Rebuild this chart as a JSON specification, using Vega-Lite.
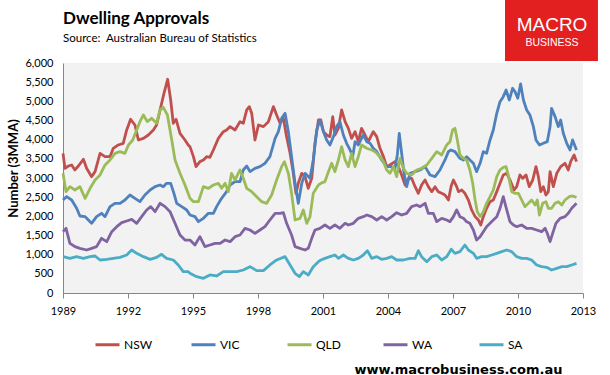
{
"$schema":"https://vega.github.io/schema/vega-lite/v6.json",
"width":520,"height":230,
"autosize":"none",
"padding":{"left":63,"top":63,"right":27,"bottom":82},
"background":"white",
"config":{"view":{"fill":"#F2F2F2","stroke":null},"font":"Lato",
"axisX":{"grid":false,"ticks":true,"tickSize":5,"tickColor":"#868686","domainColor":"#868686","labelFont":"Lato","labelFontSize":11,"labelColor":"#000000","labelPadding":7,"labelFlush":false},
"axisY":{"grid":false,"ticks":false,"domainColor":"#868686","labelFont":"Lato","labelFontSize":11,"labelColor":"#000000","labelPadding":10}},
"title":{"text":"Dwelling Approvals","subtitle":"Source:\u00a0 Australian Bureau of Statistics","anchor":"start","frame":"group","fontSize":17,"fontWeight":"bold","color":"#000000","subtitleFontSize":11.5,"subtitleColor":"#000000","subtitlePadding":5,"offset":12,"dy":58},
"layer":[
{"data":{"values":[
{"s":"NSW","t":1989.0,"v":3644},{"s":"NSW","t":1989.09,"v":3253},{"s":"NSW","t":1989.25,"v":3313},{"s":"NSW","t":1989.4,"v":3340},{"s":"NSW","t":1989.55,"v":3210},{"s":"NSW","t":1989.71,"v":3313},{"s":"NSW","t":1989.94,"v":3488},{"s":"NSW","t":1990.09,"v":3253},{"s":"NSW","t":1990.32,"v":3035},{"s":"NSW","t":1990.48,"v":3166},{"s":"NSW","t":1990.71,"v":3644},{"s":"NSW","t":1990.94,"v":3557},{"s":"NSW","t":1991.17,"v":3557},{"s":"NSW","t":1991.32,"v":3775},{"s":"NSW","t":1991.55,"v":3862},{"s":"NSW","t":1991.78,"v":3905},{"s":"NSW","t":1991.94,"v":4253},{"s":"NSW","t":1992.12,"v":4531},{"s":"NSW","t":1992.32,"v":4383},{"s":"NSW","t":1992.48,"v":3992},{"s":"NSW","t":1992.71,"v":4035},{"s":"NSW","t":1992.94,"v":4122},{"s":"NSW","t":1993.17,"v":4253},{"s":"NSW","t":1993.32,"v":4383},{"s":"NSW","t":1993.48,"v":4775},{"s":"NSW","t":1993.66,"v":5209},{"s":"NSW","t":1993.83,"v":5575},{"s":"NSW","t":1993.97,"v":5035},{"s":"NSW","t":1994.09,"v":4427},{"s":"NSW","t":1994.22,"v":4531},{"s":"NSW","t":1994.4,"v":4166},{"s":"NSW","t":1994.63,"v":3992},{"s":"NSW","t":1994.78,"v":3862},{"s":"NSW","t":1994.86,"v":3818},{"s":"NSW","t":1995.02,"v":3557},{"s":"NSW","t":1995.14,"v":3296},{"s":"NSW","t":1995.32,"v":3427},{"s":"NSW","t":1995.48,"v":3470},{"s":"NSW","t":1995.63,"v":3557},{"s":"NSW","t":1995.78,"v":3540},{"s":"NSW","t":1995.94,"v":3731},{"s":"NSW","t":1996.17,"v":4035},{"s":"NSW","t":1996.4,"v":4209},{"s":"NSW","t":1996.55,"v":4253},{"s":"NSW","t":1996.71,"v":4340},{"s":"NSW","t":1996.94,"v":4253},{"s":"NSW","t":1997.17,"v":4470},{"s":"NSW","t":1997.32,"v":4427},{"s":"NSW","t":1997.48,"v":4775},{"s":"NSW","t":1997.6,"v":4862},{"s":"NSW","t":1997.71,"v":4688},{"s":"NSW","t":1997.86,"v":3992},{"s":"NSW","t":1998.02,"v":4383},{"s":"NSW","t":1998.25,"v":4340},{"s":"NSW","t":1998.48,"v":4470},{"s":"NSW","t":1998.71,"v":4862},{"s":"NSW","t":1998.86,"v":4644},{"s":"NSW","t":1999.02,"v":4427},{"s":"NSW","t":1999.17,"v":4557},{"s":"NSW","t":1999.32,"v":4079},{"s":"NSW","t":1999.48,"v":3644},{"s":"NSW","t":1999.63,"v":3122},{"s":"NSW","t":1999.75,"v":2600},{"s":"NSW","t":1999.86,"v":2861},{"s":"NSW","t":2000.02,"v":3122},{"s":"NSW","t":2000.17,"v":3035},{"s":"NSW","t":2000.32,"v":2731},{"s":"NSW","t":2000.48,"v":2992},{"s":"NSW","t":2000.63,"v":3905},{"s":"NSW","t":2000.79,"v":4514},{"s":"NSW","t":2000.9,"v":4514},{"s":"NSW","t":2001.02,"v":4209},{"s":"NSW","t":2001.17,"v":4122},{"s":"NSW","t":2001.32,"v":4079},{"s":"NSW","t":2001.45,"v":4601},{"s":"NSW","t":2001.55,"v":4122},{"s":"NSW","t":2001.71,"v":4296},{"s":"NSW","t":2001.86,"v":4775},{"s":"NSW","t":2002.02,"v":4470},{"s":"NSW","t":2002.17,"v":4296},{"s":"NSW","t":2002.32,"v":4035},{"s":"NSW","t":2002.48,"v":4209},{"s":"NSW","t":2002.63,"v":3948},{"s":"NSW","t":2002.78,"v":4296},{"s":"NSW","t":2002.94,"v":4122},{"s":"NSW","t":2003.09,"v":3948},{"s":"NSW","t":2003.32,"v":4209},{"s":"NSW","t":2003.48,"v":4079},{"s":"NSW","t":2003.63,"v":3775},{"s":"NSW","t":2003.79,"v":3557},{"s":"NSW","t":2003.94,"v":3296},{"s":"NSW","t":2004.09,"v":3340},{"s":"NSW","t":2004.32,"v":3427},{"s":"NSW","t":2004.48,"v":3296},{"s":"NSW","t":2004.63,"v":3079},{"s":"NSW","t":2004.79,"v":2818},{"s":"NSW","t":2004.94,"v":2992},{"s":"NSW","t":2005.09,"v":2992},{"s":"NSW","t":2005.25,"v":2774},{"s":"NSW","t":2005.4,"v":2600},{"s":"NSW","t":2005.55,"v":2818},{"s":"NSW","t":2005.71,"v":2948},{"s":"NSW","t":2005.86,"v":2774},{"s":"NSW","t":2006.02,"v":2644},{"s":"NSW","t":2006.17,"v":2774},{"s":"NSW","t":2006.32,"v":2644},{"s":"NSW","t":2006.48,"v":2600},{"s":"NSW","t":2006.63,"v":2557},{"s":"NSW","t":2006.79,"v":2426},{"s":"NSW","t":2006.92,"v":2800},{"s":"NSW","t":2007.02,"v":2948},{"s":"NSW","t":2007.17,"v":2774},{"s":"NSW","t":2007.25,"v":2644},{"s":"NSW","t":2007.4,"v":2687},{"s":"NSW","t":2007.55,"v":2600},{"s":"NSW","t":2007.71,"v":2426},{"s":"NSW","t":2007.86,"v":2166},{"s":"NSW","t":2008.02,"v":1992},{"s":"NSW","t":2008.17,"v":1905},{"s":"NSW","t":2008.28,"v":1774},{"s":"NSW","t":2008.4,"v":1992},{"s":"NSW","t":2008.55,"v":2209},{"s":"NSW","t":2008.71,"v":2383},{"s":"NSW","t":2008.86,"v":2426},{"s":"NSW","t":2009.02,"v":2644},{"s":"NSW","t":2009.17,"v":2861},{"s":"NSW","t":2009.32,"v":3079},{"s":"NSW","t":2009.48,"v":3122},{"s":"NSW","t":2009.63,"v":2948},{"s":"NSW","t":2009.82,"v":2687},{"s":"NSW","t":2009.94,"v":2774},{"s":"NSW","t":2010.09,"v":3079},{"s":"NSW","t":2010.22,"v":2992},{"s":"NSW","t":2010.37,"v":3079},{"s":"NSW","t":2010.52,"v":2774},{"s":"NSW","t":2010.68,"v":2948},{"s":"NSW","t":2010.83,"v":3296},{"s":"NSW","t":2010.94,"v":3035},{"s":"NSW","t":2011.05,"v":2644},{"s":"NSW","t":2011.17,"v":2774},{"s":"NSW","t":2011.29,"v":2557},{"s":"NSW","t":2011.4,"v":2644},{"s":"NSW","t":2011.48,"v":3166},{"s":"NSW","t":2011.63,"v":2774},{"s":"NSW","t":2011.79,"v":3122},{"s":"NSW","t":2011.97,"v":3296},{"s":"NSW","t":2012.17,"v":3383},{"s":"NSW","t":2012.32,"v":3209},{"s":"NSW","t":2012.43,"v":3427},{"s":"NSW","t":2012.59,"v":3601},{"s":"NSW","t":2012.7,"v":3427},
{"s":"VIC","t":1989.0,"v":2427},{"s":"VIC","t":1989.17,"v":2513},{"s":"VIC","t":1989.4,"v":2427},{"s":"VIC","t":1989.63,"v":2209},{"s":"VIC","t":1989.78,"v":2009},{"s":"VIC","t":1990.02,"v":1992},{"s":"VIC","t":1990.17,"v":1905},{"s":"VIC","t":1990.32,"v":1818},{"s":"VIC","t":1990.55,"v":1992},{"s":"VIC","t":1990.78,"v":2079},{"s":"VIC","t":1990.94,"v":1992},{"s":"VIC","t":1991.17,"v":2253},{"s":"VIC","t":1991.4,"v":2340},{"s":"VIC","t":1991.63,"v":2340},{"s":"VIC","t":1991.86,"v":2427},{"s":"VIC","t":1992.09,"v":2557},{"s":"VIC","t":1992.32,"v":2470},{"s":"VIC","t":1992.55,"v":2383},{"s":"VIC","t":1992.78,"v":2557},{"s":"VIC","t":1993.02,"v":2687},{"s":"VIC","t":1993.25,"v":2774},{"s":"VIC","t":1993.48,"v":2818},{"s":"VIC","t":1993.63,"v":2774},{"s":"VIC","t":1993.78,"v":2861},{"s":"VIC","t":1993.97,"v":2861},{"s":"VIC","t":1994.12,"v":2600},{"s":"VIC","t":1994.25,"v":2340},{"s":"VIC","t":1994.48,"v":2253},{"s":"VIC","t":1994.71,"v":2166},{"s":"VIC","t":1994.86,"v":2035},{"s":"VIC","t":1995.09,"v":1992},{"s":"VIC","t":1995.25,"v":1861},{"s":"VIC","t":1995.48,"v":1948},{"s":"VIC","t":1995.71,"v":2079},{"s":"VIC","t":1995.94,"v":2079},{"s":"VIC","t":1996.09,"v":2253},{"s":"VIC","t":1996.32,"v":2470},{"s":"VIC","t":1996.55,"v":2644},{"s":"VIC","t":1996.71,"v":2818},{"s":"VIC","t":1996.94,"v":2905},{"s":"VIC","t":1997.17,"v":2905},{"s":"VIC","t":1997.32,"v":3209},{"s":"VIC","t":1997.48,"v":3313},{"s":"VIC","t":1997.63,"v":3166},{"s":"VIC","t":1997.86,"v":3253},{"s":"VIC","t":1998.09,"v":3296},{"s":"VIC","t":1998.32,"v":3383},{"s":"VIC","t":1998.55,"v":3557},{"s":"VIC","t":1998.79,"v":4035},{"s":"VIC","t":1998.94,"v":4209},{"s":"VIC","t":1999.09,"v":4557},{"s":"VIC","t":1999.25,"v":4688},{"s":"VIC","t":1999.4,"v":4209},{"s":"VIC","t":1999.55,"v":3557},{"s":"VIC","t":1999.71,"v":2861},{"s":"VIC","t":1999.86,"v":2339},{"s":"VIC","t":2000.02,"v":2861},{"s":"VIC","t":2000.17,"v":3122},{"s":"VIC","t":2000.4,"v":2992},{"s":"VIC","t":2000.55,"v":3470},{"s":"VIC","t":2000.71,"v":4253},{"s":"VIC","t":2000.86,"v":4514},{"s":"VIC","t":2001.02,"v":4209},{"s":"VIC","t":2001.17,"v":3992},{"s":"VIC","t":2001.32,"v":3862},{"s":"VIC","t":2001.48,"v":4079},{"s":"VIC","t":2001.63,"v":4340},{"s":"VIC","t":2001.78,"v":4470},{"s":"VIC","t":2001.94,"v":4122},{"s":"VIC","t":2002.09,"v":3905},{"s":"VIC","t":2002.25,"v":3731},{"s":"VIC","t":2002.37,"v":3557},{"s":"VIC","t":2002.48,"v":3948},{"s":"VIC","t":2002.63,"v":3862},{"s":"VIC","t":2002.86,"v":4122},{"s":"VIC","t":2003.02,"v":3948},{"s":"VIC","t":2003.17,"v":3905},{"s":"VIC","t":2003.32,"v":3775},{"s":"VIC","t":2003.48,"v":3688},{"s":"VIC","t":2003.71,"v":3470},{"s":"VIC","t":2003.94,"v":3296},{"s":"VIC","t":2004.17,"v":3296},{"s":"VIC","t":2004.32,"v":3253},{"s":"VIC","t":2004.43,"v":3601},{"s":"VIC","t":2004.52,"v":4166},{"s":"VIC","t":2004.63,"v":3644},{"s":"VIC","t":2004.74,"v":3122},{"s":"VIC","t":2004.86,"v":2774},{"s":"VIC","t":2005.02,"v":3122},{"s":"VIC","t":2005.25,"v":3166},{"s":"VIC","t":2005.48,"v":3209},{"s":"VIC","t":2005.71,"v":3296},{"s":"VIC","t":2005.94,"v":3079},{"s":"VIC","t":2006.17,"v":3035},{"s":"VIC","t":2006.4,"v":3209},{"s":"VIC","t":2006.63,"v":3470},{"s":"VIC","t":2006.79,"v":3688},{"s":"VIC","t":2006.9,"v":3731},{"s":"VIC","t":2007.09,"v":3688},{"s":"VIC","t":2007.32,"v":3514},{"s":"VIC","t":2007.48,"v":3470},{"s":"VIC","t":2007.63,"v":3557},{"s":"VIC","t":2007.78,"v":3470},{"s":"VIC","t":2007.94,"v":3383},{"s":"VIC","t":2008.09,"v":3166},{"s":"VIC","t":2008.25,"v":3383},{"s":"VIC","t":2008.4,"v":3688},{"s":"VIC","t":2008.55,"v":3644},{"s":"VIC","t":2008.71,"v":3992},{"s":"VIC","t":2008.86,"v":4253},{"s":"VIC","t":2009.02,"v":4688},{"s":"VIC","t":2009.17,"v":4992},{"s":"VIC","t":2009.32,"v":5122},{"s":"VIC","t":2009.45,"v":5296},{"s":"VIC","t":2009.6,"v":5035},{"s":"VIC","t":2009.75,"v":5340},{"s":"VIC","t":2009.86,"v":5253},{"s":"VIC","t":2009.99,"v":5079},{"s":"VIC","t":2010.12,"v":5453},{"s":"VIC","t":2010.25,"v":5035},{"s":"VIC","t":2010.4,"v":4775},{"s":"VIC","t":2010.55,"v":4644},{"s":"VIC","t":2010.71,"v":4340},{"s":"VIC","t":2010.83,"v":3992},{"s":"VIC","t":2010.99,"v":3862},{"s":"VIC","t":2011.17,"v":3905},{"s":"VIC","t":2011.35,"v":3948},{"s":"VIC","t":2011.48,"v":4340},{"s":"VIC","t":2011.55,"v":4818},{"s":"VIC","t":2011.71,"v":4601},{"s":"VIC","t":2011.86,"v":4340},{"s":"VIC","t":2011.97,"v":4514},{"s":"VIC","t":2012.09,"v":4166},{"s":"VIC","t":2012.25,"v":3905},{"s":"VIC","t":2012.4,"v":3731},{"s":"VIC","t":2012.52,"v":3992},{"s":"VIC","t":2012.7,"v":3731},
{"s":"QLD","t":1989.0,"v":3122},{"s":"QLD","t":1989.14,"v":2644},{"s":"QLD","t":1989.32,"v":2774},{"s":"QLD","t":1989.55,"v":2687},{"s":"QLD","t":1989.78,"v":2774},{"s":"QLD","t":1990.02,"v":2470},{"s":"QLD","t":1990.25,"v":2731},{"s":"QLD","t":1990.48,"v":2948},{"s":"QLD","t":1990.71,"v":3079},{"s":"QLD","t":1990.94,"v":3340},{"s":"QLD","t":1991.17,"v":3470},{"s":"QLD","t":1991.4,"v":3644},{"s":"QLD","t":1991.63,"v":3688},{"s":"QLD","t":1991.86,"v":3644},{"s":"QLD","t":1992.02,"v":3862},{"s":"QLD","t":1992.22,"v":3992},{"s":"QLD","t":1992.4,"v":4253},{"s":"QLD","t":1992.55,"v":4470},{"s":"QLD","t":1992.71,"v":4644},{"s":"QLD","t":1992.89,"v":4470},{"s":"QLD","t":1993.09,"v":4557},{"s":"QLD","t":1993.32,"v":4427},{"s":"QLD","t":1993.48,"v":4775},{"s":"QLD","t":1993.63,"v":4844},{"s":"QLD","t":1993.82,"v":4644},{"s":"QLD","t":1994.02,"v":3992},{"s":"QLD","t":1994.17,"v":3470},{"s":"QLD","t":1994.4,"v":3122},{"s":"QLD","t":1994.63,"v":2818},{"s":"QLD","t":1994.86,"v":2470},{"s":"QLD","t":1995.02,"v":2383},{"s":"QLD","t":1995.25,"v":2383},{"s":"QLD","t":1995.48,"v":2774},{"s":"QLD","t":1995.71,"v":2731},{"s":"QLD","t":1995.94,"v":2818},{"s":"QLD","t":1996.17,"v":2861},{"s":"QLD","t":1996.32,"v":2731},{"s":"QLD","t":1996.48,"v":2861},{"s":"QLD","t":1996.63,"v":2644},{"s":"QLD","t":1996.78,"v":3122},{"s":"QLD","t":1996.94,"v":2948},{"s":"QLD","t":1997.17,"v":3209},{"s":"QLD","t":1997.32,"v":2992},{"s":"QLD","t":1997.48,"v":2731},{"s":"QLD","t":1997.71,"v":2644},{"s":"QLD","t":1997.94,"v":2513},{"s":"QLD","t":1998.17,"v":2383},{"s":"QLD","t":1998.4,"v":2339},{"s":"QLD","t":1998.63,"v":2557},{"s":"QLD","t":1998.86,"v":2948},{"s":"QLD","t":1999.09,"v":3296},{"s":"QLD","t":1999.22,"v":3427},{"s":"QLD","t":1999.4,"v":3122},{"s":"QLD","t":1999.55,"v":2600},{"s":"QLD","t":1999.71,"v":1905},{"s":"QLD","t":1999.94,"v":1948},{"s":"QLD","t":2000.09,"v":2166},{"s":"QLD","t":2000.25,"v":1818},{"s":"QLD","t":2000.4,"v":1992},{"s":"QLD","t":2000.55,"v":2600},{"s":"QLD","t":2000.79,"v":2818},{"s":"QLD","t":2000.9,"v":2861},{"s":"QLD","t":2001.09,"v":2905},{"s":"QLD","t":2001.25,"v":3166},{"s":"QLD","t":2001.4,"v":3383},{"s":"QLD","t":2001.55,"v":3166},{"s":"QLD","t":2001.71,"v":3470},{"s":"QLD","t":2001.86,"v":3818},{"s":"QLD","t":2002.02,"v":3470},{"s":"QLD","t":2002.17,"v":3296},{"s":"QLD","t":2002.32,"v":3644},{"s":"QLD","t":2002.48,"v":3296},{"s":"QLD","t":2002.63,"v":3557},{"s":"QLD","t":2002.78,"v":3862},{"s":"QLD","t":2003.02,"v":3775},{"s":"QLD","t":2003.25,"v":3731},{"s":"QLD","t":2003.4,"v":3688},{"s":"QLD","t":2003.63,"v":3557},{"s":"QLD","t":2003.79,"v":3427},{"s":"QLD","t":2003.94,"v":3209},{"s":"QLD","t":2004.09,"v":3122},{"s":"QLD","t":2004.25,"v":3296},{"s":"QLD","t":2004.4,"v":3035},{"s":"QLD","t":2004.55,"v":3514},{"s":"QLD","t":2004.71,"v":3253},{"s":"QLD","t":2004.86,"v":3122},{"s":"QLD","t":2005.09,"v":3079},{"s":"QLD","t":2005.32,"v":3209},{"s":"QLD","t":2005.55,"v":3253},{"s":"QLD","t":2005.79,"v":3340},{"s":"QLD","t":2006.02,"v":3514},{"s":"QLD","t":2006.25,"v":3688},{"s":"QLD","t":2006.48,"v":3601},{"s":"QLD","t":2006.71,"v":3862},{"s":"QLD","t":2006.86,"v":3948},{"s":"QLD","t":2006.98,"v":4253},{"s":"QLD","t":2007.09,"v":4296},{"s":"QLD","t":2007.2,"v":3992},{"s":"QLD","t":2007.32,"v":3601},{"s":"QLD","t":2007.48,"v":3514},{"s":"QLD","t":2007.63,"v":3470},{"s":"QLD","t":2007.78,"v":3209},{"s":"QLD","t":2007.91,"v":2861},{"s":"QLD","t":2008.02,"v":2426},{"s":"QLD","t":2008.12,"v":2122},{"s":"QLD","t":2008.25,"v":1992},{"s":"QLD","t":2008.4,"v":2122},{"s":"QLD","t":2008.55,"v":2340},{"s":"QLD","t":2008.71,"v":2513},{"s":"QLD","t":2008.86,"v":2687},{"s":"QLD","t":2009.02,"v":3035},{"s":"QLD","t":2009.17,"v":3209},{"s":"QLD","t":2009.32,"v":3279},{"s":"QLD","t":2009.45,"v":3296},{"s":"QLD","t":2009.55,"v":3079},{"s":"QLD","t":2009.71,"v":2644},{"s":"QLD","t":2009.86,"v":2600},{"s":"QLD","t":2010.02,"v":2600},{"s":"QLD","t":2010.17,"v":2426},{"s":"QLD","t":2010.32,"v":2253},{"s":"QLD","t":2010.48,"v":2340},{"s":"QLD","t":2010.63,"v":2426},{"s":"QLD","t":2010.79,"v":2296},{"s":"QLD","t":2010.89,"v":2426},{"s":"QLD","t":2010.99,"v":2035},{"s":"QLD","t":2011.14,"v":2340},{"s":"QLD","t":2011.29,"v":2383},{"s":"QLD","t":2011.4,"v":2209},{"s":"QLD","t":2011.55,"v":2209},{"s":"QLD","t":2011.71,"v":2340},{"s":"QLD","t":2011.86,"v":2383},{"s":"QLD","t":2012.02,"v":2296},{"s":"QLD","t":2012.17,"v":2426},{"s":"QLD","t":2012.37,"v":2513},{"s":"QLD","t":2012.52,"v":2531},{"s":"QLD","t":2012.7,"v":2496},
{"s":"WA","t":1989.0,"v":1600},{"s":"WA","t":1989.14,"v":1687},{"s":"WA","t":1989.32,"v":1296},{"s":"WA","t":1989.55,"v":1209},{"s":"WA","t":1989.78,"v":1165},{"s":"WA","t":1990.09,"v":1122},{"s":"WA","t":1990.32,"v":1165},{"s":"WA","t":1990.55,"v":1209},{"s":"WA","t":1990.78,"v":1426},{"s":"WA","t":1991.02,"v":1339},{"s":"WA","t":1991.25,"v":1600},{"s":"WA","t":1991.48,"v":1731},{"s":"WA","t":1991.71,"v":1835},{"s":"WA","t":1991.94,"v":1879},{"s":"WA","t":1992.17,"v":1922},{"s":"WA","t":1992.4,"v":1818},{"s":"WA","t":1992.63,"v":1992},{"s":"WA","t":1992.86,"v":2166},{"s":"WA","t":1993.05,"v":2253},{"s":"WA","t":1993.25,"v":2122},{"s":"WA","t":1993.48,"v":2340},{"s":"WA","t":1993.71,"v":2253},{"s":"WA","t":1993.94,"v":2122},{"s":"WA","t":1994.17,"v":1818},{"s":"WA","t":1994.4,"v":1513},{"s":"WA","t":1994.63,"v":1383},{"s":"WA","t":1994.86,"v":1380},{"s":"WA","t":1995.09,"v":1252},{"s":"WA","t":1995.32,"v":1470},{"s":"WA","t":1995.55,"v":1209},{"s":"WA","t":1995.78,"v":1252},{"s":"WA","t":1996.02,"v":1296},{"s":"WA","t":1996.25,"v":1296},{"s":"WA","t":1996.48,"v":1383},{"s":"WA","t":1996.71,"v":1339},{"s":"WA","t":1996.94,"v":1470},{"s":"WA","t":1997.17,"v":1513},{"s":"WA","t":1997.4,"v":1687},{"s":"WA","t":1997.63,"v":1644},{"s":"WA","t":1997.86,"v":1557},{"s":"WA","t":1998.09,"v":1644},{"s":"WA","t":1998.32,"v":1731},{"s":"WA","t":1998.55,"v":1905},{"s":"WA","t":1998.79,"v":2079},{"s":"WA","t":1999.02,"v":2079},{"s":"WA","t":1999.17,"v":2096},{"s":"WA","t":1999.32,"v":1818},{"s":"WA","t":1999.55,"v":1513},{"s":"WA","t":1999.71,"v":1209},{"s":"WA","t":1999.94,"v":1165},{"s":"WA","t":2000.17,"v":1122},{"s":"WA","t":2000.32,"v":1165},{"s":"WA","t":2000.48,"v":1426},{"s":"WA","t":2000.63,"v":1644},{"s":"WA","t":2000.86,"v":1687},{"s":"WA","t":2001.09,"v":1774},{"s":"WA","t":2001.32,"v":1687},{"s":"WA","t":2001.55,"v":1774},{"s":"WA","t":2001.78,"v":1687},{"s":"WA","t":2002.02,"v":1818},{"s":"WA","t":2002.17,"v":1774},{"s":"WA","t":2002.4,"v":1818},{"s":"WA","t":2002.63,"v":1948},{"s":"WA","t":2002.86,"v":1992},{"s":"WA","t":2003.02,"v":2035},{"s":"WA","t":2003.25,"v":1992},{"s":"WA","t":2003.48,"v":1905},{"s":"WA","t":2003.71,"v":1992},{"s":"WA","t":2003.94,"v":1905},{"s":"WA","t":2004.17,"v":1992},{"s":"WA","t":2004.4,"v":2096},{"s":"WA","t":2004.63,"v":2035},{"s":"WA","t":2004.86,"v":2079},{"s":"WA","t":2005.09,"v":2253},{"s":"WA","t":2005.32,"v":2296},{"s":"WA","t":2005.48,"v":2253},{"s":"WA","t":2005.71,"v":2340},{"s":"WA","t":2005.86,"v":2079},{"s":"WA","t":2006.09,"v":2079},{"s":"WA","t":2006.25,"v":1861},{"s":"WA","t":2006.48,"v":1948},{"s":"WA","t":2006.71,"v":1905},{"s":"WA","t":2006.86,"v":1861},{"s":"WA","t":2007.02,"v":1992},{"s":"WA","t":2007.17,"v":2166},{"s":"WA","t":2007.32,"v":1992},{"s":"WA","t":2007.48,"v":1948},{"s":"WA","t":2007.63,"v":1861},{"s":"WA","t":2007.78,"v":1818},{"s":"WA","t":2007.94,"v":1644},{"s":"WA","t":2008.09,"v":1383},{"s":"WA","t":2008.25,"v":1470},{"s":"WA","t":2008.4,"v":1600},{"s":"WA","t":2008.55,"v":1731},{"s":"WA","t":2008.71,"v":1818},{"s":"WA","t":2008.86,"v":1905},{"s":"WA","t":2009.02,"v":1992},{"s":"WA","t":2009.17,"v":2209},{"s":"WA","t":2009.32,"v":2513},{"s":"WA","t":2009.48,"v":2166},{"s":"WA","t":2009.63,"v":1861},{"s":"WA","t":2009.79,"v":1774},{"s":"WA","t":2009.94,"v":1731},{"s":"WA","t":2010.17,"v":1774},{"s":"WA","t":2010.4,"v":1687},{"s":"WA","t":2010.63,"v":1687},{"s":"WA","t":2010.86,"v":1644},{"s":"WA","t":2011.09,"v":1600},{"s":"WA","t":2011.25,"v":1687},{"s":"WA","t":2011.35,"v":1557},{"s":"WA","t":2011.48,"v":1339},{"s":"WA","t":2011.6,"v":1557},{"s":"WA","t":2011.75,"v":1818},{"s":"WA","t":2011.94,"v":1948},{"s":"WA","t":2012.17,"v":1992},{"s":"WA","t":2012.32,"v":2079},{"s":"WA","t":2012.48,"v":2209},{"s":"WA","t":2012.7,"v":2340},
{"s":"SA","t":1989.0,"v":948},{"s":"SA","t":1989.32,"v":904},{"s":"SA","t":1989.63,"v":948},{"s":"SA","t":1989.94,"v":904},{"s":"SA","t":1990.25,"v":948},{"s":"SA","t":1990.48,"v":965},{"s":"SA","t":1990.71,"v":861},{"s":"SA","t":1991.02,"v":878},{"s":"SA","t":1991.32,"v":904},{"s":"SA","t":1991.63,"v":931},{"s":"SA","t":1991.94,"v":991},{"s":"SA","t":1992.17,"v":1122},{"s":"SA","t":1992.4,"v":1035},{"s":"SA","t":1992.71,"v":948},{"s":"SA","t":1993.02,"v":878},{"s":"SA","t":1993.32,"v":931},{"s":"SA","t":1993.55,"v":1009},{"s":"SA","t":1993.78,"v":904},{"s":"SA","t":1994.09,"v":861},{"s":"SA","t":1994.32,"v":731},{"s":"SA","t":1994.55,"v":557},{"s":"SA","t":1994.78,"v":557},{"s":"SA","t":1994.86,"v":513},{"s":"SA","t":1995.17,"v":426},{"s":"SA","t":1995.48,"v":383},{"s":"SA","t":1995.78,"v":470},{"s":"SA","t":1996.09,"v":444},{"s":"SA","t":1996.4,"v":557},{"s":"SA","t":1996.71,"v":557},{"s":"SA","t":1997.02,"v":557},{"s":"SA","t":1997.32,"v":600},{"s":"SA","t":1997.63,"v":687},{"s":"SA","t":1997.94,"v":583},{"s":"SA","t":1998.25,"v":583},{"s":"SA","t":1998.55,"v":731},{"s":"SA","t":1998.86,"v":861},{"s":"SA","t":1999.25,"v":948},{"s":"SA","t":1999.48,"v":731},{"s":"SA","t":1999.71,"v":513},{"s":"SA","t":1999.91,"v":426},{"s":"SA","t":2000.09,"v":557},{"s":"SA","t":2000.32,"v":470},{"s":"SA","t":2000.55,"v":687},{"s":"SA","t":2000.79,"v":818},{"s":"SA","t":2000.9,"v":861},{"s":"SA","t":2001.09,"v":904},{"s":"SA","t":2001.32,"v":948},{"s":"SA","t":2001.55,"v":991},{"s":"SA","t":2001.71,"v":904},{"s":"SA","t":2001.94,"v":991},{"s":"SA","t":2002.17,"v":904},{"s":"SA","t":2002.4,"v":861},{"s":"SA","t":2002.63,"v":904},{"s":"SA","t":2002.86,"v":991},{"s":"SA","t":2003.05,"v":1104},{"s":"SA","t":2003.25,"v":904},{"s":"SA","t":2003.48,"v":948},{"s":"SA","t":2003.71,"v":878},{"s":"SA","t":2003.94,"v":904},{"s":"SA","t":2004.17,"v":948},{"s":"SA","t":2004.4,"v":861},{"s":"SA","t":2004.71,"v":861},{"s":"SA","t":2005.02,"v":904},{"s":"SA","t":2005.25,"v":904},{"s":"SA","t":2005.4,"v":1104},{"s":"SA","t":2005.55,"v":948},{"s":"SA","t":2005.79,"v":818},{"s":"SA","t":2006.02,"v":948},{"s":"SA","t":2006.25,"v":991},{"s":"SA","t":2006.48,"v":861},{"s":"SA","t":2006.71,"v":948},{"s":"SA","t":2006.92,"v":1140},{"s":"SA","t":2007.09,"v":1035},{"s":"SA","t":2007.32,"v":1078},{"s":"SA","t":2007.55,"v":1252},{"s":"SA","t":2007.71,"v":1122},{"s":"SA","t":2007.94,"v":1035},{"s":"SA","t":2008.09,"v":904},{"s":"SA","t":2008.32,"v":948},{"s":"SA","t":2008.55,"v":948},{"s":"SA","t":2008.79,"v":991},{"s":"SA","t":2009.02,"v":1035},{"s":"SA","t":2009.25,"v":1078},{"s":"SA","t":2009.48,"v":1122},{"s":"SA","t":2009.71,"v":1078},{"s":"SA","t":2009.94,"v":948},{"s":"SA","t":2010.17,"v":904},{"s":"SA","t":2010.4,"v":904},{"s":"SA","t":2010.63,"v":861},{"s":"SA","t":2010.86,"v":731},{"s":"SA","t":2011.09,"v":687},{"s":"SA","t":2011.32,"v":670},{"s":"SA","t":2011.55,"v":600},{"s":"SA","t":2011.79,"v":644},{"s":"SA","t":2012.02,"v":687},{"s":"SA","t":2012.25,"v":687},{"s":"SA","t":2012.48,"v":731},{"s":"SA","t":2012.7,"v":774}
]},
"mark":{"type":"line","strokeWidth":2.8,"strokeJoin":"round"},
"encoding":{
"x":{"field":"t","type":"quantitative","scale":{"domain":[1989,2013],"nice":false,"zero":false},
"axis":{"values":[1989,1992,1995,1998,2001,2004,2007,2010,2013],"format":"d","title":"www.macrobusiness.com.au","titleFont":"DejaVu Sans","titleFontSize":13,"titleFontWeight":"bold","titleColor":"#000000","titleX":499,"titleY":80,"titleAlign":"right","titleBaseline":"alphabetic","titleAnchor":"end"}},
"y":{"field":"v","type":"quantitative","scale":{"domain":[0,6000],"nice":false},
"axis":{"values":[0,500,1000,1500,2000,2500,3000,3500,4000,4500,5000,5500,6000],"labelExpr":"format(datum.value, ',d')","title":"Number (3MMA)","titleFont":"Lato","titleFontSize":13,"titleFontWeight":"bold","titleColor":"#000000","titleX":-50,"titleY":105,"titleAngle":-90,"titleAlign":"center","titleBaseline":"middle"}},
"color":{"field":"s","type":"nominal","sort":["NSW","VIC","QLD","WA","SA"],
"scale":{"domain":["NSW","VIC","QLD","WA","SA"],"range":["#C0504D","#4F81BD","#9BBB59","#8064A2","#4BACC6"]},
"legend":{"title":null,"orient":"none","legendX":31,"legendY":268,"direction":"horizontal","columns":5,"gridAlign":"all","columnPadding":32,"symbolType":"stroke","symbolSize":576,"symbolStrokeWidth":3,"labelFont":"Lato","labelFontSize":12,"labelColor":"#000000","labelOffset":3,"padding":0}}
}},
{"data":{"values":[{"label":"MACRO BUSINESS"}]},
"mark":{"type":"rect","color":"#E2201F"},
"encoding":{
"x":{"datum":2009.4,"type":"quantitative","axis":{"values":[1989,1992,1995,1998,2001,2004,2007,2010,2013],"format":"d","title":"www.macrobusiness.com.au","titleFont":"DejaVu Sans","titleFontSize":13,"titleFontWeight":"bold","titleColor":"#000000","titleX":499,"titleY":80,"titleAlign":"right","titleBaseline":"alphabetic","titleAnchor":"end"}},
"x2":{"datum":2013.69},
"y":{"datum":7644,"type":"quantitative","axis":{"values":[0,500,1000,1500,2000,2500,3000,3500,4000,4500,5000,5500,6000],"labelExpr":"format(datum.value, ',d')","title":"Number (3MMA)","titleFont":"Lato","titleFontSize":13,"titleFontWeight":"bold","titleColor":"#000000","titleX":-50,"titleY":105,"titleAngle":-90,"titleAlign":"center","titleBaseline":"middle"}},
"y2":{"datum":6053}}},
{"data":{"values":[{"label":"MACRO"}]},
"mark":{"type":"text","color":"white","font":"Liberation Sans","fontSize":19,"align":"center","baseline":"middle"},
"encoding":{
"x":{"datum":2011.57,"type":"quantitative","axis":{"values":[1989,1992,1995,1998,2001,2004,2007,2010,2013],"format":"d","title":"www.macrobusiness.com.au","titleFont":"DejaVu Sans","titleFontSize":13,"titleFontWeight":"bold","titleColor":"#000000","titleX":499,"titleY":80,"titleAlign":"right","titleBaseline":"alphabetic","titleAnchor":"end"}},
"y":{"datum":6992,"type":"quantitative","axis":{"values":[0,500,1000,1500,2000,2500,3000,3500,4000,4500,5000,5500,6000],"labelExpr":"format(datum.value, ',d')","title":"Number (3MMA)","titleFont":"Lato","titleFontSize":13,"titleFontWeight":"bold","titleColor":"#000000","titleX":-50,"titleY":105,"titleAngle":-90,"titleAlign":"center","titleBaseline":"middle"}},
"text":{"field":"label"}}},
{"data":{"values":[{"label":"BUSINESS"}]},
"mark":{"type":"text","color":"white","font":"Liberation Sans","fontSize":10.5,"align":"center","baseline":"middle","letterSpacing":1.2},
"encoding":{
"x":{"datum":2011.57,"type":"quantitative","axis":{"values":[1989,1992,1995,1998,2001,2004,2007,2010,2013],"format":"d","title":"www.macrobusiness.com.au","titleFont":"DejaVu Sans","titleFontSize":13,"titleFontWeight":"bold","titleColor":"#000000","titleX":499,"titleY":80,"titleAlign":"right","titleBaseline":"alphabetic","titleAnchor":"end"}},
"y":{"datum":6522,"type":"quantitative","axis":{"values":[0,500,1000,1500,2000,2500,3000,3500,4000,4500,5000,5500,6000],"labelExpr":"format(datum.value, ',d')","title":"Number (3MMA)","titleFont":"Lato","titleFontSize":13,"titleFontWeight":"bold","titleColor":"#000000","titleX":-50,"titleY":105,"titleAngle":-90,"titleAlign":"center","titleBaseline":"middle"}},
"text":{"field":"label"}}}
]
}
